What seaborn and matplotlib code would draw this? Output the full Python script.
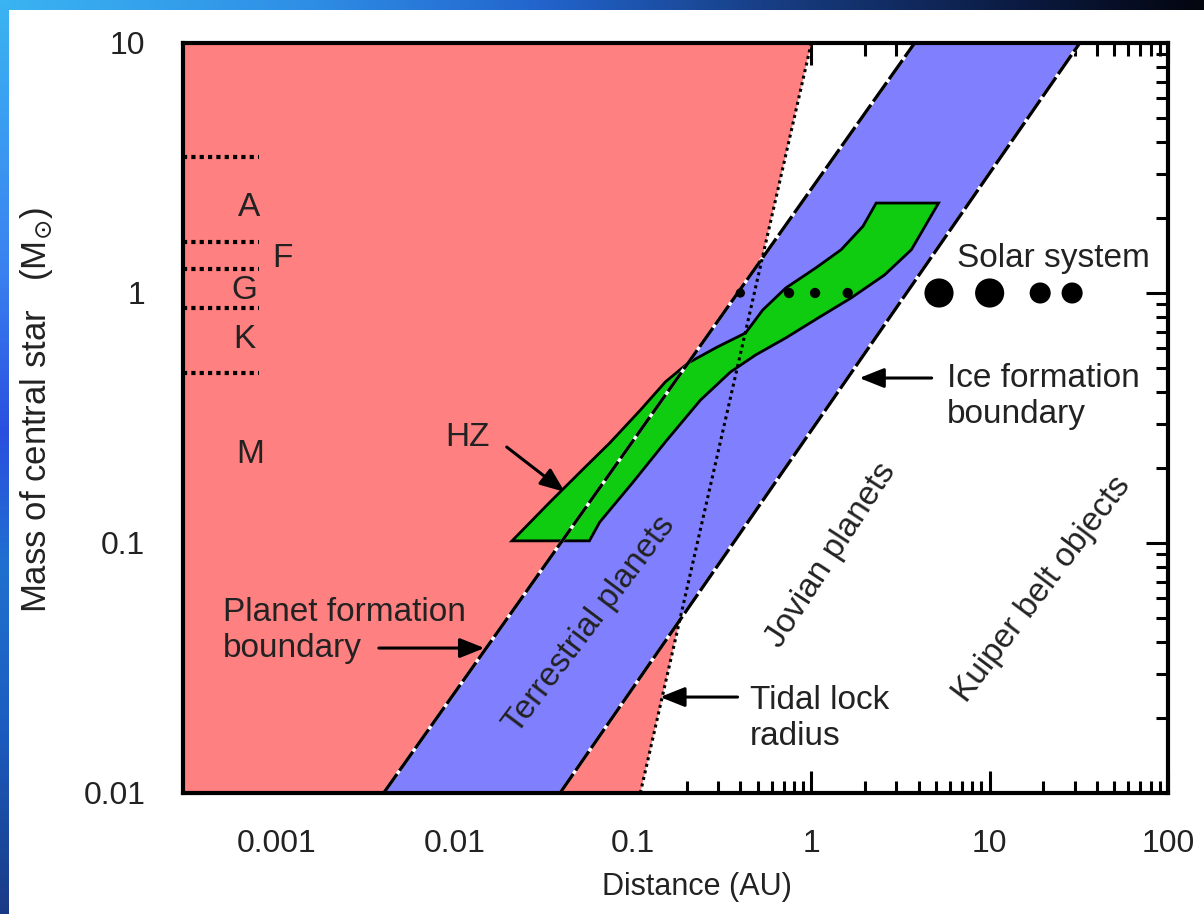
import numpy as np
import pandas as pd
import seaborn as sns
from matplotlib import pyplot as plt
from matplotlib.colors import LinearSegmentedColormap
from matplotlib.ticker import FixedLocator, FixedFormatter, LogLocator, NullFormatter

# axis ranges
dist_range = [3e-4, 100]
mass_range = [0.01, 10]

# boundary lines: distance (AU) at mass 0.01 and 10 Msun
line_mass = [0.01, 10]
planet_formation_dist = [0.004, 3.8]
ice_formation_dist = [0.039, 32]
tidal_lock_dist = [0.11, 1.0]

# habitable zone outline
hz_dist = [0.021, 0.057, 0.065, 0.100, 0.155, 0.239, 0.352, 0.487, 0.719, 1.09,
           1.67, 2.57, 3.64, 5.17, 2.31, 1.95, 1.47, 1.06, 0.719, 0.534,
           0.428, 0.297, 0.204, 0.152, 0.110, 0.074, 0.052, 0.034]
hz_mass = [0.102, 0.102, 0.121, 0.175, 0.258, 0.373, 0.483, 0.565, 0.661, 0.794,
           0.955, 1.18, 1.49, 2.29, 2.29, 1.85, 1.49, 1.26, 1.047, 0.855,
           0.692, 0.608, 0.525, 0.441, 0.340, 0.251, 0.196, 0.145]

# solar system planets
planet_names = ['Mercury', 'Venus', 'Earth', 'Mars', 'Jupiter', 'Saturn', 'Uranus', 'Neptune']
planet_dist = [0.40, 0.75, 1.05, 1.6, 5.2, 10.0, 19.2, 29.0]
planet_mass = [1.0, 1.0, 1.0, 1.0, 1.0, 1.0, 1.0, 1.0]
planet_size = [45, 55, 55, 55, 440, 440, 230, 230]

# spectral classes
spectral_bounds = [3.5, 1.6, 1.25, 0.87, 0.48]
spectral_line_dist = [3e-4, 0.0008]
spectral_types = ['A', 'F', 'G', 'K', 'M']
spectral_label_dist = [0.0007, 0.00108, 0.00066, 0.00066, 0.00071]
spectral_label_mass = [2.2, 1.38, 1.02, 0.65, 0.225]

x_ticks = [0.001, 0.01, 0.1, 1, 10, 100]
x_ticklabels = ['0.001', '0.01', '0.1', '1', '10', '100']
y_ticks = [0.01, 0.1, 1, 10]
y_ticklabels = ['0.01', '0.1', '1', '10']

sns.set_theme(style='ticks')
plt.rcParams['font.family'] = ['Liberation Sans', 'DejaVu Sans']
plt.rcParams['mathtext.fontset'] = 'dejavusans'

fig = plt.figure(figsize=(12.04, 9.14), dpi=100, facecolor='white')

# slide frame (blue gradient on top and left)
top_cmap = LinearSegmentedColormap.from_list('top', [(0, '#3ab4f2'), (0.25, '#2f8fe6'), (0.45, '#2264cc'),
                                                     (0.65, '#173c80'), (0.85, '#0b1a40'), (1, '#04060f')])
left_cmap = LinearSegmentedColormap.from_list('left', [(0, '#3ab4f2'), (0.3, '#3a80f0'), (0.47, '#2a4fe0'),
                                                       (0.62, '#2070d0'), (0.8, '#1c5cc0'), (1, '#1a3a86')])
ax_top = fig.add_axes([0, 1 - 10 / 914, 1, 10 / 914])
ax_top.imshow(np.linspace(0, 1, 256)[None, :], aspect='auto', cmap=top_cmap)
ax_top.axis('off')
ax_left = fig.add_axes([0, 0, 9 / 1204, 1])
ax_left.imshow(np.linspace(0, 1, 256)[:, None], aspect='auto', cmap=left_cmap)
ax_left.axis('off')

ax = fig.add_axes([183 / 1204, 1 - 793 / 914, 985 / 1204, 750 / 914])
ax.set_xscale('log')
ax.set_yscale('log')
ax.set_xlim(dist_range)
ax.set_ylim(mass_range)

# region left of tidal lock radius
ax.fill([dist_range[0], tidal_lock_dist[0], tidal_lock_dist[1], dist_range[0]],
        [line_mass[0], line_mass[0], line_mass[1], line_mass[1]],
        color='#ff8080', lw=0, zorder=1)
# band between planet formation and ice formation boundaries
ax.fill(planet_formation_dist + ice_formation_dist[::-1],
        line_mass + line_mass[::-1], color='#8080ff', lw=0, zorder=2)
# habitable zone
ax.fill(hz_dist, hz_mass, facecolor='#10cc10', edgecolor='black', lw=2, zorder=3)

for d in [planet_formation_dist, ice_formation_dist]:
    ax.plot(d, line_mass, color='white', lw=2.4, zorder=4)
    sns.lineplot(x=d, y=line_mass, ax=ax, color='black', lw=2.4, estimator=None, sort=False,
                 linestyle=(0, (7, 1.2)), zorder=4)
sns.lineplot(x=tidal_lock_dist, y=line_mass, ax=ax, color='black', lw=2.2, estimator=None, sort=False,
             linestyle=(0, (1, 1.2)), zorder=4)

for m in spectral_bounds:
    ax.plot(spectral_line_dist, [m, m], color='black', lw=3, linestyle=(0, (1, 1)),
            solid_capstyle='butt', dash_capstyle='butt', zorder=4)

fs = 24
for t, d, m in zip(spectral_types, spectral_label_dist, spectral_label_mass):
    ax.text(d, m, t, fontsize=fs, ha='center', va='center', color='#222222', zorder=6)

sns.scatterplot(x=planet_dist, y=planet_mass, size=planet_size,
                sizes=(min(planet_size), max(planet_size)), color='black', linewidth=0,
                legend=False, ax=ax, zorder=5)

txt = dict(fontsize=fs, color='#222222', zorder=6)
arrow = dict(arrowstyle='-|>,head_length=0.75,head_width=0.3', lw=2.2, color='black',
             shrinkA=0, shrinkB=0, mutation_scale=20)

ax.text(0.0118, 0.265, 'HZ', ha='center', va='center', **txt)
ax.annotate('', xy=(0.0415, 0.16), xytext=(0.0196, 0.242), arrowprops=arrow, zorder=6)

ax.text(0.000502, 0.0448, 'Planet formation\nboundary', ha='left', va='center', linespacing=1.2, **txt)
ax.annotate('', xy=(0.0147, 0.038), xytext=(0.00376, 0.038), arrowprops=arrow, zorder=6)

ax.text(0.452, 0.0199, 'Tidal lock\nradius', ha='left', va='center', linespacing=1.2, **txt)
ax.annotate('', xy=(0.142, 0.0242), xytext=(0.386, 0.0242), arrowprops=arrow, zorder=6)

ax.text(5.75, 0.385, 'Ice formation\nboundary', ha='left', va='center', linespacing=1.2, **txt)
ax.annotate('', xy=(1.86, 0.457), xytext=(4.73, 0.457), arrowprops=arrow, zorder=6)

ax.text(6.55, 1.38, 'Solar system', ha='left', va='center', **txt)

ax.text(0.0574, 0.047, 'Terrestrial planets', ha='center', va='center', rotation=53, **txt)
ax.text(1.29, 0.0895, 'Jovian planets', ha='center', va='center', rotation=57, **txt)
ax.text(19.7, 0.065, 'Kuiper belt objects', ha='center', va='center', rotation=53, **txt)

ax.xaxis.set_major_locator(FixedLocator(x_ticks))
ax.xaxis.set_major_formatter(FixedFormatter(x_ticklabels))
ax.yaxis.set_major_locator(FixedLocator(y_ticks))
ax.yaxis.set_major_formatter(FixedFormatter(y_ticklabels))
ax.xaxis.set_minor_locator(LogLocator(base=10, subs=np.arange(2, 10), numticks=20))
ax.yaxis.set_minor_locator(LogLocator(base=10, subs=np.arange(2, 10), numticks=20))
ax.xaxis.set_minor_formatter(NullFormatter())
ax.yaxis.set_minor_formatter(NullFormatter())

ax.tick_params(which='both', direction='in', top=True, right=True, width=2.2,
               color='black', labelcolor='#222222', labelsize=23)
ax.tick_params(which='major', length=16)
ax.tick_params(which='minor', length=9)
ax.tick_params(axis='x', which='major', pad=26)
ax.tick_params(axis='y', which='major', pad=27)
for s in ax.spines.values():
    s.set_linewidth(3)
    s.set_color('black')
    s.set_zorder(7)

ax.set_xlabel('Distance (AU)', fontsize=22, color='#222222')
ax.set_ylabel('Mass of central star   (M$_{\\odot}$)', fontsize=25, color='#222222')
ax.xaxis.set_label_coords(0.522, -0.105)
ax.yaxis.set_label_coords(-0.13, 0.51)

fig.savefig('out.png', dpi=100, facecolor='white')
